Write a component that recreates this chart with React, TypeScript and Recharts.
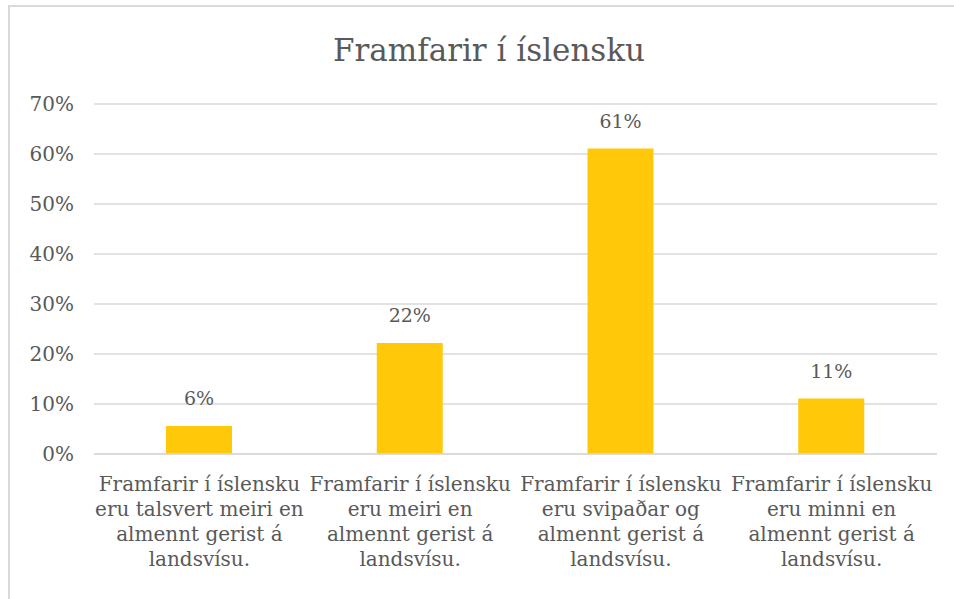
import React from "react";
import { BarChart, Bar, XAxis, YAxis, CartesianGrid, LabelList } from "recharts";

const categories = [
	"Framfarir í íslensku\neru talsvert meiri en\nalmennt gerist á\nlandsvísu.",
	"Framfarir í íslensku\neru meiri en\nalmennt gerist á\nlandsvísu.",
	"Framfarir í íslensku\neru svipaðar og\nalmennt gerist á\nlandsvísu.",
	"Framfarir í íslensku\neru minni en\nalmennt gerist á\nlandsvísu.",
];
const values = [5.6, 22.2, 61.1, 11.1];
const yTicks = [0, 10, 20, 30, 40, 50, 60, 70];

const FONT = "DejaVu Serif";
const TEXT = "#595959";

const data = categories.map((c, i) => ({ name: c, value: values[i] }));

function CategoryTick({ x, y, payload }: any) {
	const lines = String(payload.value).split("\n");
	return (
		<text x={x} y={y + 29} textAnchor="middle" fill={TEXT} fontFamily={FONT} fontSize={20}>
			{lines.map((l, i) => (
				<tspan key={i} x={x} dy={i === 0 ? 0 : 25}>
					{l}
				</tspan>
			))}
		</text>
	);
}

export default function App() {
	return (
		<div
			style={{
				position: "absolute",
				top: 5,
				left: 8,
				width: 946,
				height: 594,
				borderLeft: "2px solid #d9d9d9",
				borderTop: "2px solid #d9d9d9",
				boxSizing: "border-box",
				background: "#fff",
			}}
		>
			<div
				style={{
					position: "absolute",
					top: 25,
					left: 0,
					width: 958,
					textAlign: "center",
					fontFamily: FONT,
					fontSize: 31,
					color: TEXT,
				}}
			>
				Framfarir í íslensku
			</div>
			<BarChart
				width={944}
				height={592}
				data={data}
				margin={{ top: 97, right: 17, left: 0, bottom: 0 }}
				barSize={66}
			>
				<CartesianGrid vertical={false} stroke="#d9d9d9" strokeWidth={1.5} />
				<XAxis
					dataKey="name"
					height={145}
					axisLine={{ stroke: "#d9d9d9", strokeWidth: 1.5 }}
					tickLine={false}
					interval={0}
					tick={<CategoryTick />}
				/>
				<YAxis
					width={84}
					domain={[0, 70]}
					ticks={yTicks}
					axisLine={false}
					tickLine={false}
					tickMargin={14}
					tickFormatter={(v) => `${v}%`}
					tick={{ fill: TEXT, fontFamily: FONT, fontSize: 20 }}
				/>
				<Bar dataKey="value" fill="#FFC90A" isAnimationActive={false}>
					<LabelList
						dataKey="value"
						position="top"
						offset={21}
						formatter={(v: any) => `${Math.round(v)}%`}
						fill={TEXT}
						fontFamily={FONT}
						fontSize={19}
					/>
				</Bar>
			</BarChart>
		</div>
	);
}
